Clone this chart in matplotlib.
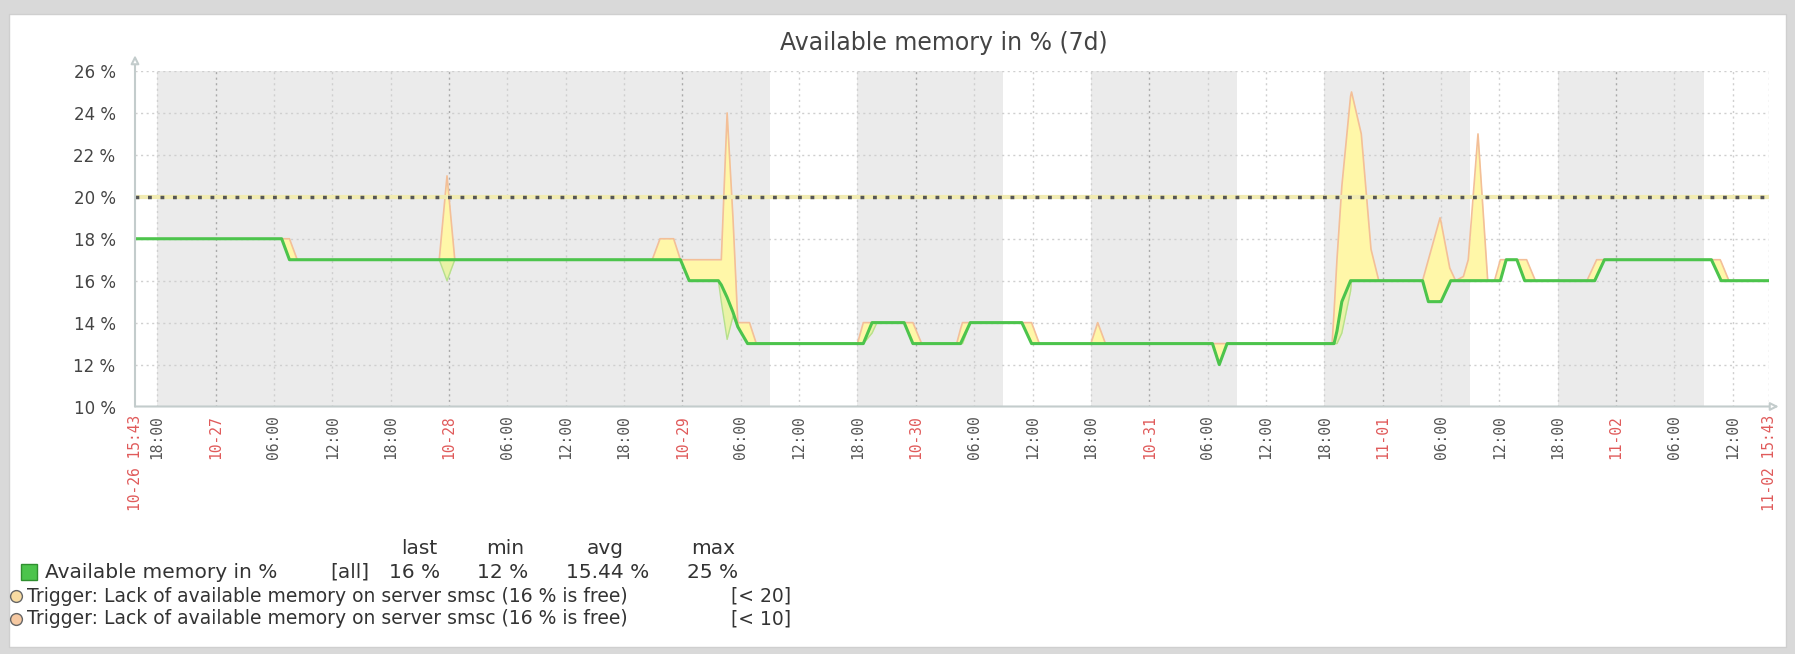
import numpy as np
import pandas as pd
import matplotlib
matplotlib.use("Agg")
import matplotlib.pyplot as plt

W, H = 1795, 654

# time of each point: hours after 10-26 00:00
hours = [15.72, 30.8, 31.6, 32.4, 47.0, 47.8, 48.6, 68.9, 69.7, 71.1, 71.8, 72.7,
         75.7, 76.0, 76.6, 77.2, 77.7, 78.7, 78.9, 79.6,
         90.0, 90.6, 91.5, 92.0, 94.8, 95.7, 96.6,
         100.2, 100.6, 100.8, 101.6, 106.9, 107.9, 108.7,
         114.0, 114.7, 115.5, 126.5, 127.2, 128.0,
         138.8, 139.0, 139.3, 139.8, 140.7, 140.8, 141.8, 142.8, 143.6,
         148.1, 148.7, 149.9, 150.0, 150.9, 151.0, 151.5, 152.3, 152.8, 153.8, 154.8,
         155.5, 156.1, 156.7, 157.8, 158.6, 158.8, 159.7,
         165.0, 165.8, 166.0, 166.8, 177.8, 178.7, 178.8, 179.6, 183.72]
mem_min = [18, 18, 17, 17, 17, 16, 17, 17, 17, 17, 17, 16,
           16, 15, 13.2, 14.3, 13.8, 13, 13, 13,
           13, 13, 13.5, 14, 14, 13, 13,
           13, 13, 13, 14, 14, 13, 13,
           13, 13, 13, 13, 12, 13,
           13, 13, 13, 13.5, 15.5, 16, 16, 16, 16,
           16, 15, 15, 15, 15.8, 16, 16, 16, 16, 16, 16,
           16, 16, 17, 17, 16, 16, 16,
           16, 16, 16.2, 17, 17, 16.1, 16, 16, 16]
mem_avg = [18, 18, 17, 17, 17, 17, 17, 17, 17, 17, 17, 16,
           16, 15.8, 15.2, 14.5, 13.8, 13, 13, 13,
           13, 13, 14, 14, 14, 13, 13,
           13, 13, 13.2, 14, 14, 13, 13,
           13, 13, 13, 13, 12, 13,
           13, 13, 13.6, 15, 16, 16, 16, 16, 16,
           16, 15, 15, 15, 15.9, 16, 16, 16, 16, 16, 16,
           16, 16, 17, 17, 16, 16, 16,
           16, 16, 16.2, 17, 17, 16.1, 16, 16, 16]
mem_max = [18, 18, 18, 17, 17, 21, 17, 17, 18, 18, 17, 17,
           17, 17, 24, 19, 14, 14, 14, 13,
           13, 14, 14, 14, 14, 14, 13,
           13, 13.7, 14, 14, 14, 14, 13,
           13, 14, 13, 13, 13, 13,
           13, 14.5, 17, 20.5, 24.8, 25, 23, 17.5, 16,
           16, 17, 19, 18.8, 16.6, 16.5, 16, 16.2, 17, 23, 16,
           16, 17, 17, 17, 17, 17, 16,
           16, 16.8, 17, 17, 17, 17, 16.9, 16, 16]

t_start = 15.72   # 10-26 15:43
t_end = 183.72    # 11-02 15:43
trigger_line = 20

# non working time (grey background), hours after 10-26 00:00
shade_from = [18, 90, 114, 138, 162]
shade_to = [81, 105, 129, 153, 177]

col_names = ["last", "min", "avg", "max"]
col_values = ["16 %", "12 %", "15.44 %", "25 %"]
trigger_texts = ["Trigger: Lack of available memory on server smsc (16 % is free)",
                 "Trigger: Lack of available memory on server smsc (16 % is free)"]
trigger_conds = ["[< 20]", "[< 10]"]
trigger_colors = ["#f8dba2", "#f6c9a2"]

base = pd.Timestamp("2013-10-26 00:00")
green = "#4cc44c"
axis_c = "#c3cccc"

fig = plt.figure(figsize=(W / 100, H / 100), dpi=100)
fig.patch.set_facecolor("#d9d9d9")

# background panel + title + legend, in pixel coordinates
bg = fig.add_axes([0, 0, 1, 1])
bg.set_xlim(0, W)
bg.set_ylim(H, 0)
bg.axis("off")
bg.add_patch(plt.Rectangle((9, 14), 1777, 633, facecolor="white", edgecolor="#cfcfcf", lw=1))

bg.text(944, 43, "Available memory in % (7d)", ha="center", va="center",
        fontsize=17, color="#444444")

leg_fs = 14.5
col_x = [419, 505, 605, 713]
val_x = [415, 503, 608, 713]
for name, x in zip(col_names, col_x):
    bg.text(x, 548, name, ha="center", va="center", fontsize=leg_fs, color="#333333")
bg.add_patch(plt.Rectangle((21, 564), 16, 16, facecolor=green, edgecolor="#2f8f2f", lw=1))
bg.text(45, 572, "Available memory in %", ha="left", va="center", fontsize=leg_fs, color="#333333")
bg.text(330, 572, "[all]", ha="left", va="center", fontsize=leg_fs, color="#333333")
for v, x in zip(col_values, val_x):
    bg.text(x, 572, v, ha="center", va="center", fontsize=leg_fs, color="#333333")
for i, (txt, cond, c) in enumerate(zip(trigger_texts, trigger_conds, trigger_colors)):
    y = 596 + 23 * i
    bg.plot([16], [y], "o", ms=8.5, mfc=c, mec="#666666", mew=1)
    bg.text(27, y, txt, ha="left", va="center", fontsize=13.5, color="#333333")
    bg.text(731, y, cond, ha="left", va="center", fontsize=13.5, color="#333333")

# main graph area
ax = fig.add_axes([135 / W, 1 - 406.5 / H, (1769 - 135) / W, (406.5 - 71) / H])
ax.set_facecolor("white")
ax.set_xlim(t_start, t_end)
ax.set_ylim(10, 26)
for s in ax.spines.values():
    s.set_visible(False)

for a, b in zip(shade_from, shade_to):
    ax.axvspan(a, b, color="#ebebeb", lw=0, zorder=0)

tick_hours = list(range(18, 181, 6))
for h in tick_hours + [t_end]:
    midnight = h % 24 == 0
    ax.axvline(h, color="#a9a9a9" if midnight else "#cfcfcf", lw=1,
               linestyle=(0, (1.5, 2.5)), zorder=1)
for v in range(12, 27, 2):
    ax.axhline(v, color="#cfcfcf", lw=1, linestyle=(0, (1.5, 2.5)), zorder=1)

x = np.array(hours)
lo = np.array(mem_min)
mid = np.array(mem_avg)
hi = np.array(mem_max)
ax.fill_between(x, mid, hi, color="#fff7a8", lw=0, zorder=2)
ax.fill_between(x, lo, mid, color="#e9f3a6", lw=0, zorder=2)
ax.plot(x, hi, color="#f3bf98", lw=1.2, zorder=3)
ax.plot(x, lo, color="#b5e08c", lw=1.0, zorder=3)

ax.axhline(trigger_line, color="#f1ebb2", lw=3, zorder=4)
ax.axhline(trigger_line, color="#555555", lw=2.5, linestyle=(0, (1.1, 2.5)),
           dash_capstyle="butt", zorder=4)

ax.plot(x, mid, color=green, lw=2.2, zorder=5, solid_joinstyle="round")

# axis lines with open arrow heads
ax.annotate("", xy=(t_start, 26.75), xytext=(t_start, 10), annotation_clip=False,
            arrowprops=dict(arrowstyle="-|>", ec=axis_c, fc="white", lw=1.5,
                            mutation_scale=12, shrinkA=0, shrinkB=0), zorder=6)
ax.annotate("", xy=(t_end + 1.0, 10), xytext=(t_start, 10), annotation_clip=False,
            arrowprops=dict(arrowstyle="-|>", ec=axis_c, fc="white", lw=1.5,
                            mutation_scale=12, shrinkA=0, shrinkB=0), zorder=6)

ax.set_yticks(range(10, 27, 2))
ax.set_yticklabels([f"{v} %" for v in range(10, 27, 2)])
ax.tick_params(axis="y", length=0, pad=14, labelsize=12, labelcolor="#444444")

xt = [t_start] + tick_hours + [t_end]
labels = []
colors = []
for h in xt:
    ts = base + pd.Timedelta(hours=h)
    if h in (t_start, t_end):
        labels.append(ts.round("min").strftime("%m-%d %H:%M"))
        colors.append("#e05a5a")
    elif ts.hour == 0:
        labels.append(ts.strftime("%m-%d"))
        colors.append("#e05a5a")
    else:
        labels.append(ts.strftime("%H:%M"))
        colors.append("#555555")
ax.set_xticks(xt)
ax.set_xticklabels(labels, rotation=90, family="DejaVu Sans Mono", fontsize=10.5, va="top")
for lab, c in zip(ax.get_xticklabels(), colors):
    lab.set_color(c)
ax.tick_params(axis="x", length=0, pad=6)

fig.savefig("out.png", dpi=100, facecolor=fig.get_facecolor())
